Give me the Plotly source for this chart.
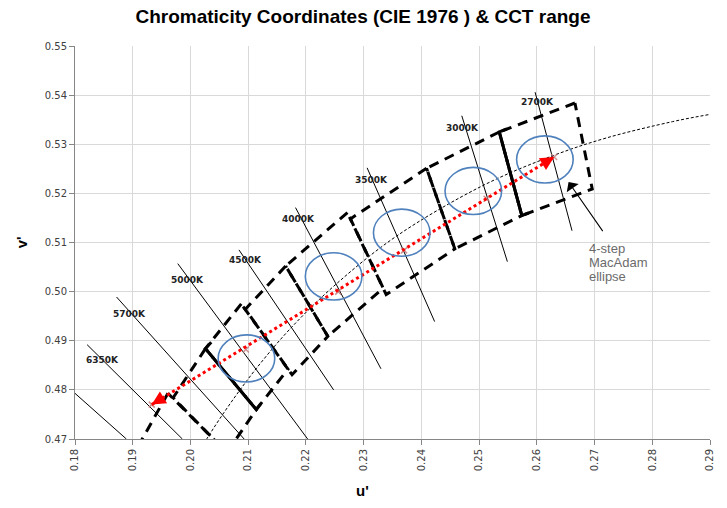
import plotly.graph_objects as go

TITLE = "Chromaticity Coordinates (CIE 1976 ) & CCT range"

# ---------------- data (u', v') ----------------
# Planckian locus (thin dashed curve)
locus_T = [6500, 6000, 5500, 5000, 4500, 4000, 3500, 3000, 2700, 2500, 2300, 2200, 2100]
locus_u = [0.2005, 0.2034, 0.2070, 0.2115, 0.2174, 0.2252, 0.2357, 0.2505, 0.2624, 0.2721, 0.2835, 0.2901, 0.2972]
locus_v = [0.4655, 0.4711, 0.4774, 0.4845, 0.4926, 0.5015, 0.5113, 0.5215, 0.5275, 0.5313, 0.5346, 0.5361, 0.5375]

# CCT quadrangles (thick dashed), corners in drawing order
quad_names = ["2700K", "3000K", "3500K", "4000K", "4500K", "5000K", "5700K", "6500K"]
quad_u = [
    [0.2666, 0.2535, 0.2574, 0.2696],
    [0.2535, 0.2409, 0.2458, 0.2574],
    [0.2409, 0.2277, 0.2339, 0.2458],
    [0.2272, 0.2165, 0.2238, 0.2334],
    [0.2165, 0.2095, 0.2176, 0.2238],
    [0.2088, 0.2026, 0.2114, 0.2169],
    [0.2026, 0.1970, 0.2063, 0.2114],
    [0.1961, 0.1905, 0.2005, 0.2055],
]
quad_v = [
    [0.5384, 0.5325, 0.5155, 0.5209],
    [0.5325, 0.5251, 0.5087, 0.5155],
    [0.5251, 0.5148, 0.4994, 0.5087],
    [0.5161, 0.5052, 0.4909, 0.5007],
    [0.5052, 0.4964, 0.4831, 0.4909],
    [0.4975, 0.4884, 0.4760, 0.4842],
    [0.4884, 0.4784, 0.4672, 0.4760],
    [0.4793, 0.4676, 0.4576, 0.4682],
]

# solid range brackets
bracket_5000_u = [0.2036, 0.2026, 0.2114, 0.2122]
bracket_5000_v = [0.4897, 0.4884, 0.4760, 0.4772]
bracket_2700_u = [0.2548, 0.2535, 0.2574, 0.2586]
bracket_2700_v = [0.5331, 0.5325, 0.5155, 0.5160]

# isotherm lines
iso_labels = ["2700K", "3000K", "3500K", "4000K", "4500K", "5000K", "5700K", "6350K", ""]
iso_u_start = [0.2597, 0.2470, 0.2306, 0.2182, 0.2084, 0.1978, 0.1872, 0.1821, 0.1799]
iso_v_start = [0.5406, 0.5358, 0.5252, 0.5171, 0.5085, 0.5057, 0.4989, 0.4892, 0.4794]
iso_u_end = [0.2661, 0.2549, 0.2423, 0.2330, 0.2248, 0.2203, 0.2093, 0.1986, 0.1889]
iso_v_end = [0.5124, 0.5061, 0.4939, 0.4843, 0.4800, 0.4700, 0.4700, 0.4700, 0.4700]
label_u = [0.2602, 0.2471, 0.2313, 0.2187, 0.2096, 0.1995, 0.1895, 0.1848]
label_v = [0.5386, 0.5333, 0.5228, 0.5148, 0.5065, 0.5024, 0.4955, 0.4861]

# 4-step MacAdam ellipses (centres)
ell_names = ["2700K", "3000K", "3500K", "4000K", "5000K"]
ell_u = [0.2614, 0.2490, 0.2366, 0.2248, 0.2097]
ell_v = [0.5269, 0.5205, 0.5120, 0.5031, 0.4864]

# measured points along the red arrow
meas_u = [0.1933, 0.2096, 0.2256, 0.2370, 0.2513, 0.2630]
meas_v = [0.4770, 0.4882, 0.5000, 0.5084, 0.5189, 0.5274]

# ---------------- styles ----------------
ELL_RU = 0.0049
ELL_RV = 0.0048
BLACK = "#000000"

fig = go.Figure()

# isotherms
xs, ys = [], []
for a, b, c, d in zip(iso_u_start, iso_v_start, iso_u_end, iso_v_end):
    xs += [a, c, None]
    ys += [b, d, None]
fig.add_trace(go.Scatter(x=xs, y=ys, mode="lines", line=dict(color=BLACK, width=1),
                         hoverinfo="skip", showlegend=False))

# Planckian locus
fig.add_trace(go.Scatter(x=locus_u, y=locus_v, mode="lines", line_shape="spline",
                         line=dict(color=BLACK, width=1, dash="3px,2px"),
                         hoverinfo="skip", showlegend=False))

# quadrangles
for qu, qv in zip(quad_u, quad_v):
    fig.add_trace(go.Scatter(x=qu + [qu[0]], y=qv + [qv[0]], mode="lines",
                             line=dict(color=BLACK, width=3, dash="10px,7px"),
                             hoverinfo="skip", showlegend=False))

# solid brackets
for bu, bv in ((bracket_5000_u, bracket_5000_v), (bracket_2700_u, bracket_2700_v)):
    fig.add_trace(go.Scatter(x=bu, y=bv, mode="lines",
                             line=dict(color=BLACK, width=3),
                             hoverinfo="skip", showlegend=False))

# measured points
fig.add_trace(go.Scatter(x=meas_u, y=meas_v, mode="markers",
                         marker=dict(symbol="x-thin", size=6,
                                     line=dict(color="rgba(190,120,120,0.8)", width=1.5)),
                         hoverinfo="skip", showlegend=False))

# red dotted line
fig.add_trace(go.Scatter(x=[meas_u[0], meas_u[-1]], y=[meas_v[0], meas_v[-1]], mode="lines",
                         line=dict(color="#ff0000", width=3, dash="dot"),
                         hoverinfo="skip", showlegend=False))

# ellipses
shapes = []
for cu, cv in zip(ell_u, ell_v):
    shapes.append(dict(type="circle", xref="x", yref="y",
                       x0=cu - ELL_RU, x1=cu + ELL_RU, y0=cv - ELL_RV, y1=cv + ELL_RV,
                       line=dict(color="#4f81bd", width=1.6)))

annotations = []
for t, lu, lv in zip(iso_labels, label_u, label_v):
    annotations.append(dict(x=lu, y=lv, xref="x", yref="y", text="<b>%s</b>" % t,
                            showarrow=False, font=dict(family="DejaVu Sans", size=9, color="#222222")))

# red arrowheads
du = meas_u[-1] - meas_u[0]
dv = meas_v[-1] - meas_v[0]
for (tu, tv, sgn) in ((meas_u[-1], meas_v[-1], -1), (meas_u[0], meas_v[0], 1)):
    annotations.append(dict(x=tu, y=tv, ax=tu + sgn * du * 0.02, ay=tv + sgn * dv * 0.02,
                            xref="x", yref="y", axref="x", ayref="y", text="",
                            showarrow=True, arrowhead=2, arrowsize=1.1, arrowwidth=2.5,
                            arrowcolor="#ff0000", standoff=0))

# MacAdam annotation arrow
annotations.append(dict(x=0.2655, y=0.5223, ax=0.2716, ay=0.5120, xref="x", yref="y",
                        axref="x", ayref="y", text="", showarrow=True, arrowhead=1,
                        arrowsize=2.2, arrowwidth=1.1, arrowcolor=BLACK, standoff=0))
for i, line in enumerate(["4-step", "MacAdam", "ellipse"]):
    annotations.append(dict(x=0.26864, y=[0.50871, 0.50587, 0.50302][i], xref="x", yref="y",
                            text=line, showarrow=False, xanchor="left", yanchor="middle",
                            font=dict(family="Liberation Sans", size=13, color="#6b6b6b")))

# axis titles
annotations.append(dict(x=0.4523, y=-0.1298, xref="paper", yref="paper", text="<b>u'</b>",
                        showarrow=False, xanchor="center", yanchor="middle",
                        font=dict(family="Liberation Sans", size=15, color="#000")))
annotations.append(dict(x=-0.0829, y=0.5013, xref="paper", yref="paper", text="<b>v'</b>",
                        showarrow=False, textangle=-90, xanchor="center", yanchor="middle",
                        font=dict(family="Liberation Sans", size=15, color="#000")))

fig.update_layout(
    width=727, height=508,
    margin=dict(l=75, r=13, t=46, b=69),
    paper_bgcolor="white", plot_bgcolor="white",
    title=dict(text="<b>%s</b>" % TITLE, x=0.4993, y=0.9685, xref="container", yref="container",
               xanchor="center", yanchor="middle",
               font=dict(family="Liberation Sans", size=19, color="#000")),
    shapes=shapes,
    annotations=annotations,
    showlegend=False,
)
axis_common = dict(showgrid=True, gridcolor="#d9d9d9", gridwidth=1, showline=True,
                   linecolor="#868686", linewidth=1, ticks="outside", ticklen=5,
                   tickcolor="#868686", zeroline=False, tickformat=".2f", dtick=0.01,
                   tickfont=dict(family="DejaVu Sans", size=10, color="#404040"))
fig.update_xaxes(range=[0.18, 0.29], tick0=0.18, tickangle=-90, **axis_common)
fig.update_yaxes(range=[0.47, 0.55], tick0=0.47, **axis_common)

fig.write_html("out.html", config={"displayModeBar": False},
               post_script="document.body.style.margin='0';document.body.style.overflow='hidden';")
